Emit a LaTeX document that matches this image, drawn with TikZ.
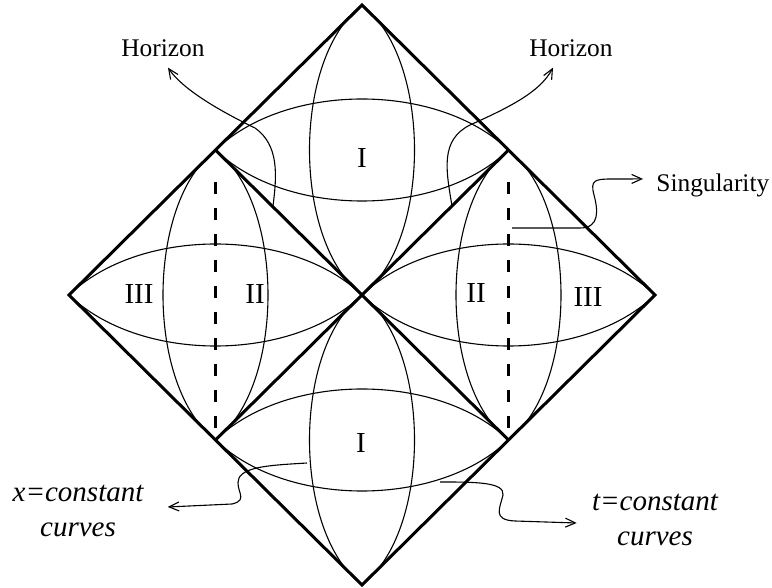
\documentclass[tikz,border=0pt]{standalone}
\usepackage{fontspec}
\setmainfont{Liberation Serif}
\usepackage{tikz}
\usetikzlibrary{arrows.meta}

\begin{document}
\begin{tikzpicture}[
  x=0.5pt, y=-0.5pt,
  edge/.style={line width=1.5pt, line join=miter},
  horizonline/.style={line width=1.5pt},
  lens/.style={line width=0.55pt},
  singline/.style={line width=1.9pt, dash pattern=on 6pt off 7pt, dash phase=6pt, shorten <=9pt, shorten >=6pt},
  leader/.style={line width=0.55pt, -{Straight Barb[length=5pt,width=4.5pt]}},
  region/.style={font=\fontsize{14.5}{17}\selectfont, inner sep=0pt},
  tag/.style={font=\fontsize{12.7}{15}\selectfont, inner sep=0pt},
  itag/.style={font=\fontsize{14.5}{17.5}\selectfont\itshape, align=center, inner sep=0pt},
]
\useasboundingbox (0,0) rectangle (772,588);

% Corners of the diagram
\coordinate (topv) at (362,5);
\coordinate (leftv) at (69,295);
\coordinate (rightv) at (655,295);
\coordinate (botv) at (362,585);
\coordinate (mid) at (362,295);
\coordinate (hul) at (215.5,150);
\coordinate (hur) at (508.5,150);
\coordinate (hll) at (215.5,440);
\coordinate (hlr) at (508.5,440);

% x=constant and t=constant curves in each region
\foreach \cx/\cy in {362/150, 215.5/295, 508.5/295, 362/440} {
  \draw[lens] (\cx,\cy-145) .. controls (\cx-70,\cy-92) and (\cx-70,\cy+92) .. (\cx,\cy+145);
  \draw[lens] (\cx,\cy-145) .. controls (\cx+70,\cy-92) and (\cx+70,\cy+92) .. (\cx,\cy+145);
  \draw[lens] (\cx-146.5,\cy) .. controls (\cx-76,\cy-68) and (\cx+76,\cy-68) .. (\cx+146.5,\cy);
  \draw[lens] (\cx-146.5,\cy) .. controls (\cx-76,\cy+68) and (\cx+76,\cy+68) .. (\cx+146.5,\cy);
}

% Outer boundary and horizons
\draw[edge] (topv) -- (rightv) -- (botv) -- (leftv) -- cycle;
\draw[horizonline] (hul) -- (hlr);
\draw[horizonline] (hur) -- (hll);

% Singularities
\draw[singline] (hul) -- (hll);
\draw[singline] (hur) -- (hlr);

% Region names
\node[region] (r1top) at (362,158) {I};
\node[region] (r1bot) at (361,443) {I};
\node[region] (r2left) at (255,294) {II};
\node[region] (r3left) at (139,294) {III};
\node[region] (r2right) at (476,293) {II};
\node[region] (r3right) at (588,297) {III};

% Labels
\node[tag, anchor=base] (hlab) at (163,57) {Horizon};
\node[tag, anchor=base] (hrlab) at (571,57) {Horizon};
\node[tag, anchor=base west] (slab) at (656,192) {Singularity};
\node[itag] (xlab) at (78,511) {x=constant\\curves};
\node[itag] (tlab) at (655,520) {t=constant\\curves};

% Leader arrows
\coordinate (hzl) at (273,206);
\coordinate (hzr) at (452,206);
\coordinate (sg) at (512,228);
\coordinate (xc) at (307,463);
\coordinate (tc) at (440,482);

\draw[leader] (hzl) .. controls (277,175) and (279,145) .. (255,128)
  .. controls (222,112) and (183,90) .. ([shift={(5,10)}]hlab.south);
\draw[leader] (hzr) .. controls (446,170) and (440,140) .. (470,125)
  .. controls (510,107) and (540,92) .. ([shift={(-18,10)}]hrlab.south);
\draw[leader] (sg) -- (580,228) .. controls (600,228) and (598,210) .. (594,195)
  .. controls (590,180) and (595,179) .. (612,179) -- ([shift={(-13,-7)}]slab.west);
\draw[leader] (xc) .. controls (275,465) and (245,466) .. (239,478)
  .. controls (234,490) and (250,500) .. (232,504) -- ([shift={(24,-4)}]xlab.east);
\draw[leader] (tc) .. controls (475,482) and (505,482) .. (503,495)
  .. controls (500,508) and (492,520) .. (515,521) -- ([shift={(-15,3)}]tlab.west);

\end{tikzpicture}
\end{document}
